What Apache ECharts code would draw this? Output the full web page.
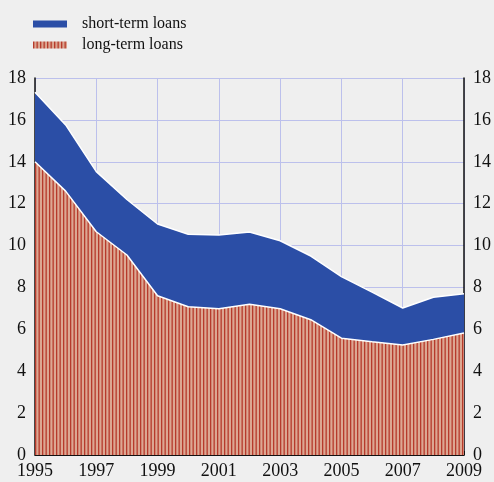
<!DOCTYPE html>
<html>
<head>
<meta charset="utf-8">
<script src="https://cdn.jsdelivr.net/npm/echarts@6/dist/echarts.min.js"></script>
<style>
  html, body { margin: 0; padding: 0; background: #efefef; }
  #chart { width: 494px; height: 482px; }
</style>
</head>
<body>
<div id="chart"></div>
<script>
// data
var years = ["1995","1996","1997","1998","1999","2000","2001","2002","2003","2004","2005","2006","2007","2008","2009"]
var longTerm = [14.0, 12.6, 10.66, 9.55, 7.6, 7.08, 6.98, 7.2, 6.98, 6.46, 5.58, 5.41, 5.25, 5.52, 5.82]
var shortTerm = [3.32, 3.16, 2.87, 2.65, 3.43, 3.46, 3.52, 3.45, 3.25, 3.04, 2.94, 2.37, 1.77, 2.01, 1.88]
var yTicks = [0, 2, 4, 6, 8, 10, 12, 14, 16, 18]

var blue = "#2b4ea6"
var font = "Liberation Serif"

// vertical red stripes on a salmon ground
var cv = document.createElement("canvas")
cv.width = 7
cv.height = 4
var ctx = cv.getContext("2d")
ctx.fillStyle = "#dca792"
ctx.fillRect(0, 0, 7, 4)
ctx.fillStyle = "#b63a2b"
ctx.fillRect(0, 0, 1.3, 4)
ctx.fillRect(3.5, 0, 1.3, 4)
var hatch = { image: cv, repeat: "repeat" }

var chart = echarts.init(document.getElementById("chart"))
chart.setOption({
  backgroundColor: "#efefef",
  animation: false,
  legend: {
    orient: "vertical",
    left: 28,
    top: 11,
    itemWidth: 34,
    itemHeight: 7,
    itemGap: 5,
    icon: "rect",
    textStyle: { fontFamily: font, fontSize: 16, color: "#111", padding: [0, 0, 0, 10] },
    data: [
      { name: "short-term loans", itemStyle: { color: blue } },
      { name: "long-term loans", itemStyle: { color: hatch } }
    ]
  },
  grid: { left: 35, right: 29, top: 78, bottom: 27 },
  xAxis: {
    type: "category",
    data: years,
    boundaryGap: false,
    offset: 2,
    axisLine: { show: true, lineStyle: { color: "#111", width: 1 } },
    axisTick: { show: true, inside: true, length: 4, interval: 1, lineStyle: { color: "#111" } },
    axisLabel: { interval: 1, fontFamily: font, fontSize: 18, color: "#111", margin: 5 },
    splitLine: { show: true, interval: 1, lineStyle: { color: "#bcc0ec", width: 1 } }
  },
  yAxis: [
    {
      type: "value", min: 0, max: 18, interval: 2,
      axisLine: { show: true, lineStyle: { color: "#111", width: 1.5 } },
      axisTick: { show: false },
      axisLabel: { fontFamily: font, fontSize: 18, color: "#111", margin: 9,
        formatter: function (v) { return yTicks.indexOf(v) >= 0 ? String(v) : "" } },
      splitLine: { show: true, lineStyle: { color: "#bcc0ec", width: 1 } }
    },
    {
      type: "value", min: 0, max: 18, interval: 2, position: "right",
      axisLine: { show: true, lineStyle: { color: "#111", width: 1.5 } },
      axisTick: { show: false },
      axisLabel: { fontFamily: font, fontSize: 18, color: "#111", margin: 9 },
      splitLine: { show: false }
    }
  ],
  series: [
    {
      name: "long-term loans",
      type: "line",
      stack: "loans",
      data: longTerm,
      symbol: "none",
      lineStyle: { color: "#fff", width: 1.5 },
      itemStyle: { color: hatch },
      areaStyle: { color: hatch, opacity: 1 },
      z: 3
    },
    {
      name: "short-term loans",
      type: "line",
      stack: "loans",
      data: shortTerm,
      symbol: "none",
      lineStyle: { color: "#fff", width: 1.5 },
      itemStyle: { color: blue },
      areaStyle: { color: blue, opacity: 1 },
      z: 2
    }
  ]
})
</script>
</body>
</html>
